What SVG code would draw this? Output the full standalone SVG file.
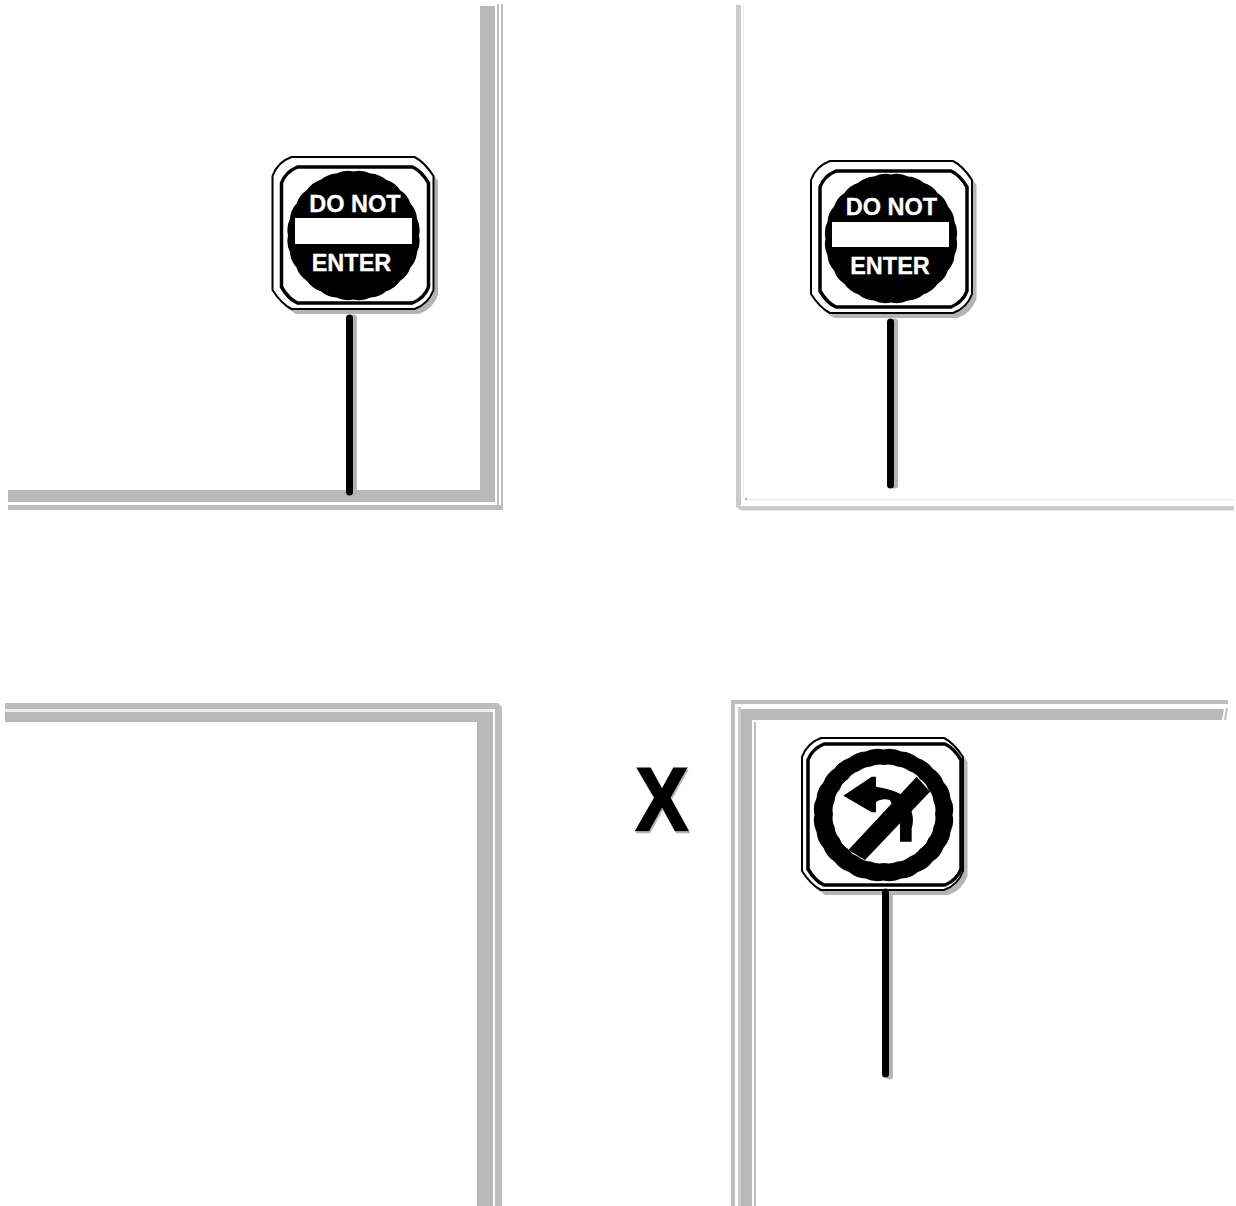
<svg xmlns="http://www.w3.org/2000/svg" width="1236" height="1206" viewBox="0 0 1236 1206">
<style>
.thick{fill:#b9b9b9}
.thin{fill:#bdbdbd}
.pale{fill:#cbcbcb}
.faint{fill:#ececec}
.shadow{fill:#b4b4b4}
.outer{fill:#fff;stroke:#000;stroke-width:2}
.inner{fill:none;stroke:#000;stroke-width:3.5}
.pole{stroke:#000;stroke-width:7;stroke-linecap:round}
.poleshadow{stroke:#b4b4b4;stroke-width:7;stroke-linecap:round}
.sign{font-family:"Liberation Sans",Arial,sans-serif;font-weight:700;font-size:23.500px;fill:#fff;stroke:#fff;stroke-width:.3;text-anchor:middle}
.x{font-family:"Liberation Sans",Arial,sans-serif;font-weight:700;font-size:89px;fill:#000;stroke:#000;stroke-width:2.500}
</style>
<defs>
<path id="panel" d="M19,0H142Q152,5 161,19V133Q156,147 142,152H19Q9,147 0,133V19Q5,5 19,0Z"/>
<path id="inner-a" d="M16,0H131Q140,4 147,16V120Q143,131 131,136H16Q7,132 0,120V16Q4,5 16,0Z"/>
<path id="inner-b" d="M16,0H137Q146,4 153,16V125Q149,136 137,141H16Q7,137 0,125V16Q4,5 16,0Z"/>
<path id="disc" d="M100,0A40,40 0 0 1 97,26A40,40 0 0 1 87,50A40,40 0 0 1 71,71A40,40 0 0 1 50,87A40,40 0 0 1 26,97A40,40 0 0 1 0,100A40,40 0 0 1 -26,97A40,40 0 0 1 -50,87A40,40 0 0 1 -71,71A40,40 0 0 1 -87,50A40,40 0 0 1 -97,26A40,40 0 0 1 -100,0A40,40 0 0 1 -97,-26A40,40 0 0 1 -87,-50A40,40 0 0 1 -71,-71A40,40 0 0 1 -50,-87A40,40 0 0 1 -26,-97A40,40 0 0 1 0,-100A40,40 0 0 1 26,-97A40,40 0 0 1 50,-87A40,40 0 0 1 71,-71A40,40 0 0 1 87,-50A40,40 0 0 1 97,-26A40,40 0 0 1 100,0Z"/>
<filter id="xs" x="-10%" y="-10%" width="120%" height="120%"><feDropShadow dx="1" dy="2" stdDeviation="0.4" flood-color="#b4b4b4"/></filter>
</defs>
<g id="corner-top-left">
<rect class="thick" x="480" y="6" width="15" height="484"/>
<rect class="thick" x="8" y="490" width="487" height="12"/>
<path class="thin" d="M497,4h2V505h2V4h2V510H8V505H497Z"/>
</g>
<g id="corner-top-right">
<path class="pale" d="M736,5h5V506H1234v4.500H741L736,507Z"/>
<rect class="faint" x="743" y="5" width="1" height="493"/>
<rect class="faint" x="746" y="499" width="488" height="1.500"/>
<rect fill="#aaa" x="745" y="498" width="2" height="2"/>
</g>
<g id="corner-bottom-left">
<path class="thin" d="M5,703H498L502,707V1206H495V709L491,709H5Z"/>
<rect class="faint" x="5" y="709" width="486" height="3"/>
<path class="thick" d="M5,712H493V1206H477V722H5Z"/>
</g>
<g id="corner-bottom-right">
<path class="thin" d="M731,1206V700H1228V704H735V1206Z"/>
<path class="pale" d="M738,1206V707H741V1206Z"/>
<path class="thick" d="M741,1206V709H1224L1222,720H752V1206Z"/>
<path class="thin" d="M754,1206V722H756V1206Z"/>
<path class="thin" d="M1226,708h2l-2,12h-2Z"/>
</g>
<g id="sign-do-not-enter-1">
<line class="poleshadow" x1="353.500" y1="318" x2="353.500" y2="492"/>
<line class="pole" x1="349.500" y1="318" x2="349.500" y2="492"/>
<use href="#panel" class="shadow" transform="translate(277,162)"/>
<use href="#panel" class="outer" transform="translate(272.500,157)"/>
<use href="#inner-a" class="inner" transform="translate(281.500,167)"/>
<use href="#disc" transform="translate(353.500,235.500) scale(.655,.64)"/>
<rect x="295" y="218" width="117" height="26" fill="#fff"/>
<text class="sign" x="355" y="212">DO NOT</text>
<text class="sign" x="351.500" y="271">ENTER</text>
</g>
<g id="sign-do-not-enter-2">
<line class="poleshadow" x1="894.500" y1="322" x2="894.500" y2="485"/>
<line class="pole" x1="890.500" y1="322" x2="890.500" y2="485"/>
<use href="#panel" class="shadow" transform="translate(815.500,166)"/>
<use href="#panel" class="outer" transform="translate(811,161)"/>
<use href="#inner-a" class="inner" transform="translate(820,171)"/>
<use href="#disc" transform="translate(891,238.500) scale(.655,.64)"/>
<rect x="832" y="222" width="117" height="25" fill="#fff"/>
<text class="sign" x="891.500" y="215">DO NOT</text>
<text class="sign" x="890" y="274">ENTER</text>
</g>
<g id="mark-x">
<text class="x" x="636" y="830" textLength="52" lengthAdjust="spacingAndGlyphs" filter="url(#xs)">X</text>
</g>
<g id="sign-no-left-turn">
<line class="poleshadow" x1="889.500" y1="894" x2="889.500" y2="1076"/>
<line class="pole" x1="885.500" y1="892" x2="885.500" y2="1074"/>
<use href="#panel" class="shadow" transform="translate(806.500,743)"/>
<use href="#panel" class="outer" transform="translate(802,738)"/>
<use href="#inner-b" class="inner" transform="translate(808,744)"/>
<use href="#disc" transform="translate(883.500,815) scale(.69,.655)"/>
<use href="#disc" fill="#fff" transform="translate(884,814) scale(.51,.49)"/>
<line class="pole" x1="885.500" y1="892" x2="885.500" y2="896"/>
<g transform="translate(790,725) scale(.33333)">
<path d="M160,212L245,155H258V185C290,190 320,198 345,215C365,250 375,280 365,310V350H330V295L300,225C280,220 265,225 258,232V262H245Z"/>
<path d="M175,375L380,155L420,200L225,405Z"/>
</g>
</g>
</svg>
